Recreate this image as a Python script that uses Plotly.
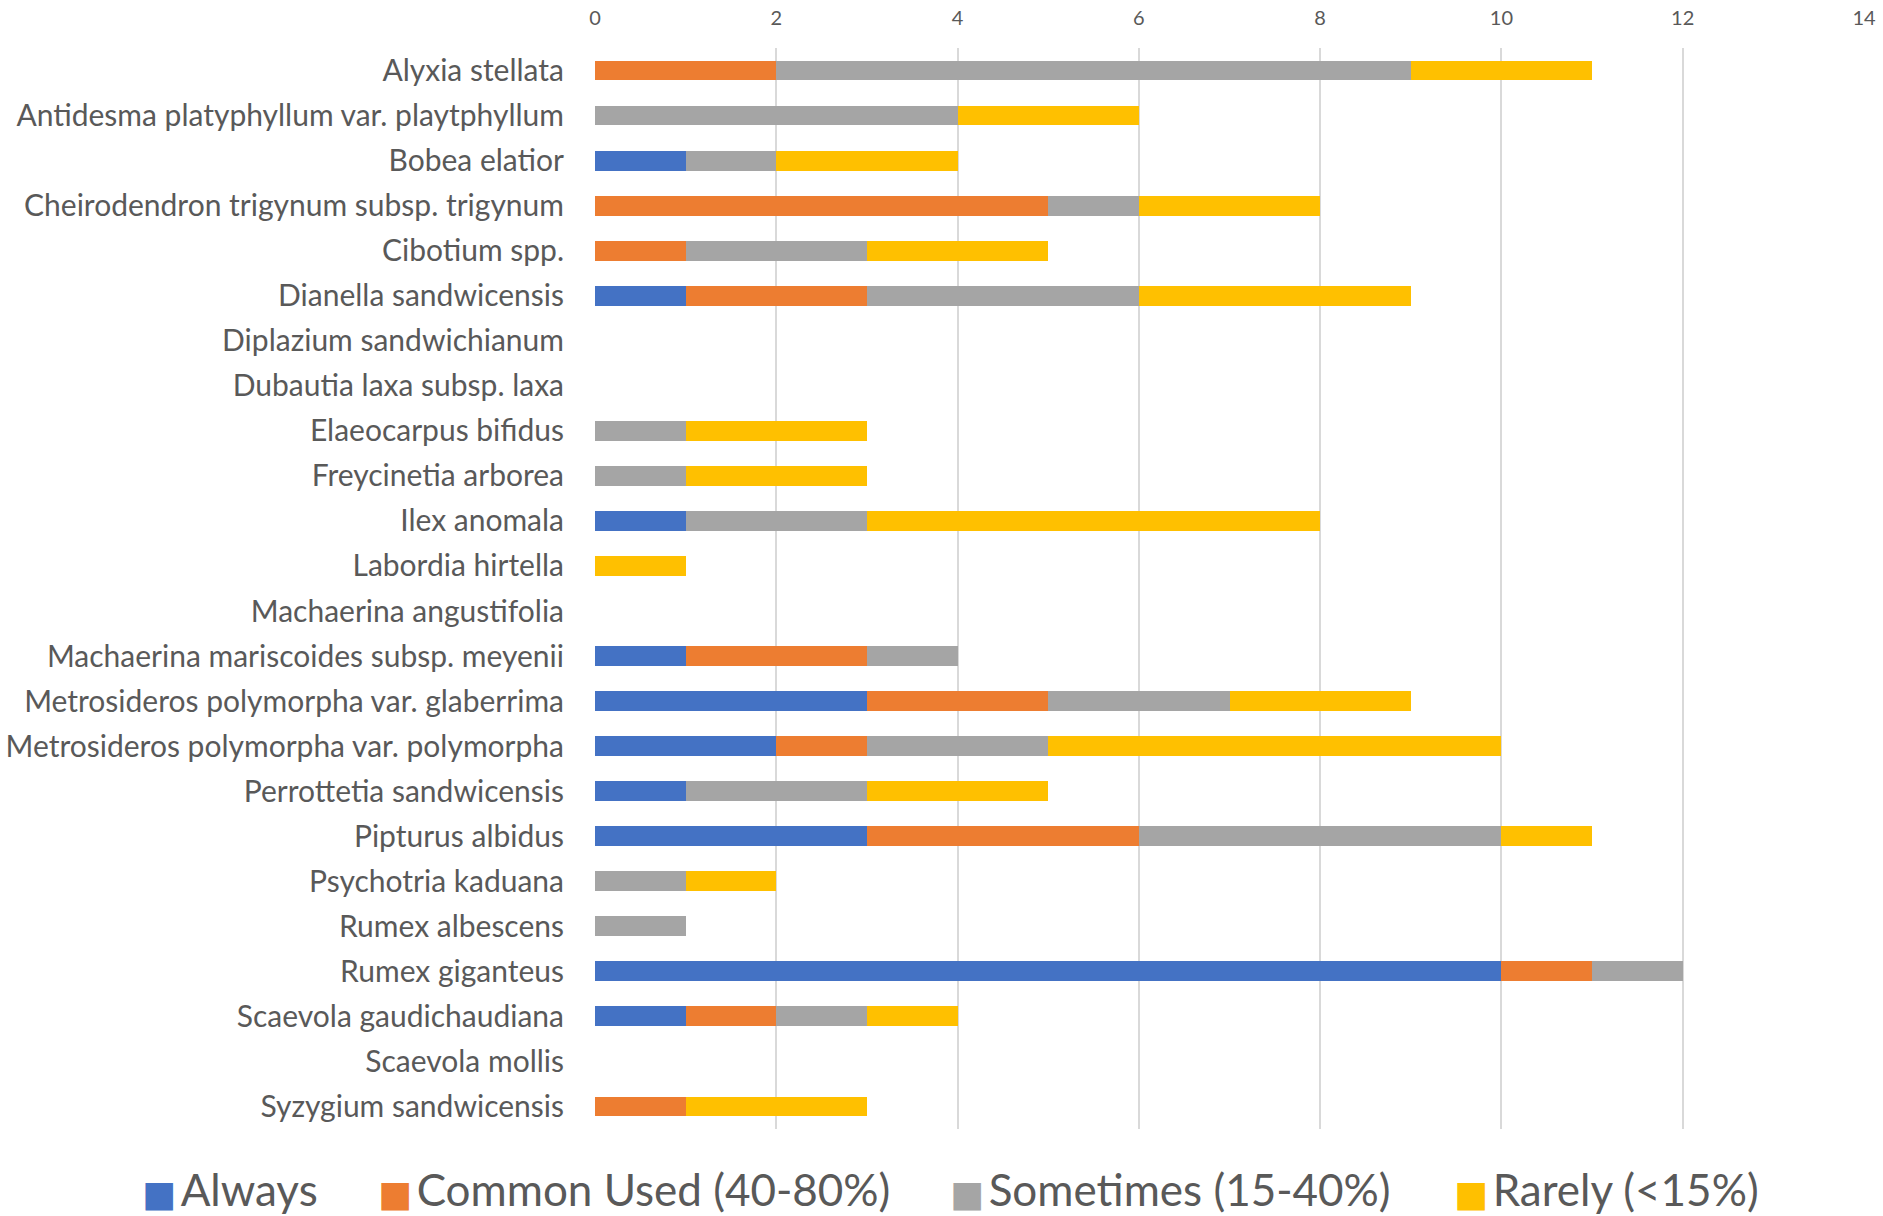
import plotly.graph_objects as go

species = [
    "Alyxia stellata",
    "Antidesma platyphyllum var. playtphyllum",
    "Bobea elatior",
    "Cheirodendron trigynum subsp. trigynum",
    "Cibotium spp.",
    "Dianella sandwicensis",
    "Diplazium sandwichianum",
    "Dubautia laxa subsp. laxa",
    "Elaeocarpus bifidus",
    "Freycinetia arborea",
    "Ilex anomala",
    "Labordia hirtella",
    "Machaerina angustifolia",
    "Machaerina mariscoides subsp. meyenii",
    "Metrosideros polymorpha var. glaberrima",
    "Metrosideros polymorpha var. polymorpha",
    "Perrottetia sandwicensis",
    "Pipturus albidus",
    "Psychotria kaduana",
    "Rumex albescens",
    "Rumex giganteus",
    "Scaevola gaudichaudiana",
    "Scaevola mollis",
    "Syzygium sandwicensis",
]

always    = [0, 0, 1, 0, 0, 1, 0, 0, 0, 0, 1, 0, 0, 1, 3, 2, 1, 3, 0, 0, 10, 1, 0, 0]
common    = [2, 0, 0, 5, 1, 2, 0, 0, 0, 0, 0, 0, 0, 2, 2, 1, 0, 3, 0, 0, 1, 1, 0, 1]
sometimes = [7, 4, 1, 1, 2, 3, 0, 0, 1, 1, 2, 0, 0, 1, 2, 2, 2, 4, 1, 1, 1, 1, 0, 0]
rarely    = [2, 2, 2, 2, 2, 3, 0, 0, 2, 2, 5, 1, 0, 0, 2, 5, 2, 1, 1, 0, 0, 1, 0, 2]

series_names = ["Always", "Common Used (40-80%)", "Sometimes (15-40%)", "Rarely (<15%)"]
series_values = [always, common, sometimes, rarely]
colors = ["#4472C4", "#ED7D31", "#A5A5A5", "#FFC000"]

x_ticks = [0, 2, 4, 6, 8, 10, 12, 14]

W, H = 1883, 1216
FONT = "Lato, 'Open Sans', sans-serif"
TXT = "#595959"

fig = go.Figure()
legend_ids = ["legend", "legend2", "legend3", "legend4"]
legend_x = [102, 338, 910, 1414]

for name, vals, col, lg in zip(series_names, series_values, colors, legend_ids):
    fig.add_trace(go.Bar(
        y=species, x=vals, name=name, orientation="h",
        marker=dict(color=col, line=dict(width=0)),
        showlegend=False,
    ))
    label = (f'<span style="font-family:\'DejaVu Sans\';font-size:36px;color:{col}">\u25A0</span>'
             f'<span style="font-size:18px"> </span>{name}')
    fig.add_trace(go.Scatter(
        x=[None], y=[None], mode="markers", name=label,
        marker=dict(symbol="square", size=1, color="rgba(0,0,0,0)"),
        showlegend=True, legend=lg,
    ))

layout_legends = {}
for lg, lx in zip(legend_ids, legend_x):
    layout_legends[lg] = dict(
        x=lx / W, y=1 - 1189 / H, xref="container", yref="container",
        xanchor="left", yanchor="middle", orientation="h",
        font=dict(family=FONT, size=44, color=TXT),
        bgcolor="rgba(0,0,0,0)", itemwidth=30,
    )

L, R, T, B = 595, W - 1864, 48, H - 1129

fig.update_layout(
    width=W, height=H,
    margin=dict(l=L, r=R, t=T, b=B, autoexpand=False),
    barmode="stack", bargap=0.56,
    plot_bgcolor="white", paper_bgcolor="white",
    font=dict(family=FONT, color=TXT),
    xaxis=dict(
        side="top", range=[0, 14], tickvals=x_ticks,
        showgrid=True, gridcolor="#D9D9D9", gridwidth=1.5,
        zeroline=False, showline=False,
        tickfont=dict(family=FONT, size=20, color=TXT),
        ticks="", ticklabelstandoff=18,
    ),
    yaxis=dict(
        categoryorder="array", categoryarray=species,
        autorange="reversed", showgrid=False, zeroline=False, showline=False,
        tickfont=dict(family=FONT, size=30, color=TXT),
        ticks="", ticklabelstandoff=30,
    ),
    **layout_legends,
)

fig.write_html("out.html")
